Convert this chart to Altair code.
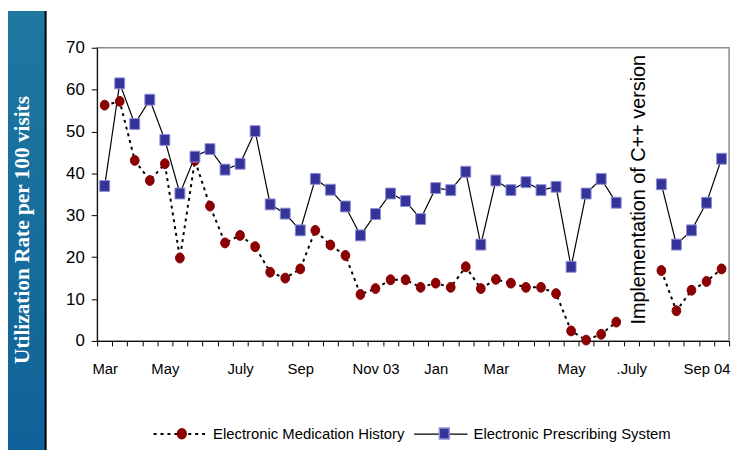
import altair as alt
import pandas as pd

# ---- data ----
emh = [56.3, 57.2, 43.1, 38.3, 42.3, 19.8, 43.1, 32.2, 23.4, 25.2, 22.5, 16.4, 15.0, 17.2,
       26.4, 22.9, 20.4, 11.1, 12.5, 14.6, 14.6, 12.8, 13.8, 12.8, 17.7, 12.5, 14.7, 13.8,
       12.8, 12.8, 11.3, 2.4, 0.2, 1.6, 4.5, None, None, 16.8, 7.2, 12.1, 14.2, 17.2]
eps = [37.0, 61.5, 51.8, 57.6, 48.0, 35.2, 44.0, 45.8, 40.9, 42.3, 50.1, 32.6, 30.4, 26.4,
       38.7, 36.1, 32.1, 25.2, 30.3, 35.2, 33.4, 29.1, 36.5, 36.0, 40.4, 23.0, 38.3, 36.0,
       37.9, 36.0, 36.8, 17.7, 35.2, 38.7, 33.0, None, None, 37.4, 23.0, 26.4, 33.0, 43.5]
x_labels = ["Mar", "", "", "", "May", "", "", "", "", "July", "", "", "", "Sep", "", "", "", "",
            "Nov  03", "", "", "", "Jan", "", "", "", "Mar", "", "", "", "", "May", "", "", "",
            ".July", "", "", "", "", "Sep  04", ""]
series_names = ["Electronic Medication History", "Electronic Prescribing System"]
y_title = "Utilization Rate per 100 visits"
annotation = "Implementation of C++ version"
annotation_pos = (36.5, 36.1)

# ---- table ----
rows = []
for name, vals in zip(series_names, [emh, eps]):
    part = "a"
    for i, v in enumerate(vals):
        if v is None:
            part = "b"
            continue
        rows.append({"idx": i + 1, "value": v, "series": name, "series_m": name,
                     "seg": name + part})
df = pd.DataFrame(rows)
n = len(x_labels)

FONT = "Liberation Sans, Arial, sans-serif"
W, H = 638, 296
TOP = 37            # space above the plot inside the page
LINE_SYM = 2916     # 54 px wide legend line
MARK_SYM = 100      # marker size (unit path scaled by 5 px)
circle_path = "M-0.88,0A0.88,1 0 1,0 0.88,0A0.88,1 0 1,0 -0.88,0Z"
square_path = "M-1,-1.1H1V1.1H-1Z"

label_arr = "[" + ",".join("'" + s + "'" for s in x_labels) + "]"
x_enc = alt.X("idx:Q",
              scale=alt.Scale(domain=[0.5, n + 0.5], nice=False, zero=False),
              axis=alt.Axis(values=[0.5 + i for i in range(n + 1)], tickCount=n + 1,
                            labelExpr=f"{label_arr}[round(datum.value - 0.5)] || ''",
                            labelOffset=W / n / 2, tickSize=5, labelPadding=16,
                            labelFlush=False, labelOverlap=False, grid=False, title=None,
                            labelFont=FONT, labelFontSize=15, labelColor="black",
                            domainColor="black", tickColor="black"))
y_enc = alt.Y("value:Q",
              scale=alt.Scale(domain=[0, 70], nice=False),
              axis=alt.Axis(values=list(range(0, 71, 10)), tickCount=8, tickSize=6,
                            labelPadding=7, grid=False, title=None, labelFont=FONT,
                            labelFontSize=17, labelColor="black", domainColor="black",
                            tickColor="black"))

LX, LY, COLPAD = 146, 362, 6
line_w = LINE_SYM ** 0.5
mark_w = MARK_SYM ** 0.5
leg_text = dict(orient="none", direction="horizontal", title=None, labelFont=FONT,
                labelFontSize=15, labelLimit=400, labelOffset=5, padding=0)

base = alt.Chart(df)
lines = base.mark_line(color="black").encode(
    x=x_enc, y=y_enc, detail="seg:N",
    strokeDash=alt.StrokeDash("series:N",
                              scale=alt.Scale(domain=series_names, range=[[3, 4], [1, 0]]),
                              legend=alt.Legend(symbolType="stroke", symbolStrokeColor="black",
                                                symbolStrokeWidth=1.5, labelColor="black",
                                                symbolSize=LINE_SYM, legendX=LX, legendY=LY,
                                                columnPadding=COLPAD, **leg_text)),
    strokeWidth=alt.StrokeWidth("series:N",
                                scale=alt.Scale(domain=series_names, range=[2, 1.2]),
                                legend=None),
)
# marker scales keep a data-driven domain so their legend stays separate from the line legend;
# it is laid over the line legend so each marker sits in the middle of its line
points = base.mark_point(filled=True, opacity=1, size=MARK_SYM, strokeWidth=1).encode(
    x=x_enc, y=y_enc,
    shape=alt.Shape("series_m:N",
                    scale=alt.Scale(range=[circle_path, square_path]),
                    legend=alt.Legend(labelColor="transparent", symbolSize=MARK_SYM,
                                      legendX=LX + (line_w - mark_w) / 2, legendY=LY + 20,
                                      columnPadding=COLPAD + (line_w - mark_w), **leg_text)),
    fill=alt.Fill("series_m:N",
                  scale=alt.Scale(range=["#8b0000", "#333399"])),
    stroke=alt.Stroke("series_m:N",
                      scale=alt.Scale(range=["#8b0000", "#8f8fd6"])),
)
ann = alt.Chart(pd.DataFrame({"x": [annotation_pos[0]], "y": [annotation_pos[1]],
                              "t": [annotation]})).mark_text(
    angle=270, font=FONT, fontSize=20, color="black"
).encode(x="x:Q", y="y:Q", text="t:N")

right = alt.layer(lines, points, ann).properties(
    width=W, height=H,
    view=alt.ViewBackground(stroke="#8c8c8c", strokeWidth=1.5),
)

left_df = pd.DataFrame({"t": [y_title]})
grad = alt.LinearGradient(gradient="linear",
                          stops=[alt.GradientStop(offset=0, color="#1f78a0"),
                                 alt.GradientStop(offset=1, color="#0f6299")],
                          x1=0, x2=0, y1=0, y2=1)
left_bg = alt.Chart(left_df).mark_rect(fill=grad).encode(
    x=alt.value(0), x2=alt.value(38), y=alt.value(-TOP), y2=alt.value(443 - TOP))
left_text = alt.Chart(left_df).mark_text(
    angle=270, font="Liberation Serif", fontWeight="bold", fontSize=21.5, color="white"
).encode(text="t:N", x=alt.value(15), y=alt.value(221 - TOP))
left_rule = alt.Chart(left_df).mark_rule(color="black", strokeWidth=2).encode(
    x=alt.value(38), y=alt.value(-TOP), y2=alt.value(443 - TOP))
left = alt.layer(left_bg, left_text, left_rule).properties(
    width=38, height=H, view=alt.ViewBackground(stroke=None))

chart = alt.hconcat(left, right, spacing=18).properties(padding=0).configure(
    background="white")

chart.save("out.html", embed_options={"renderer": "svg", "actions": False})
